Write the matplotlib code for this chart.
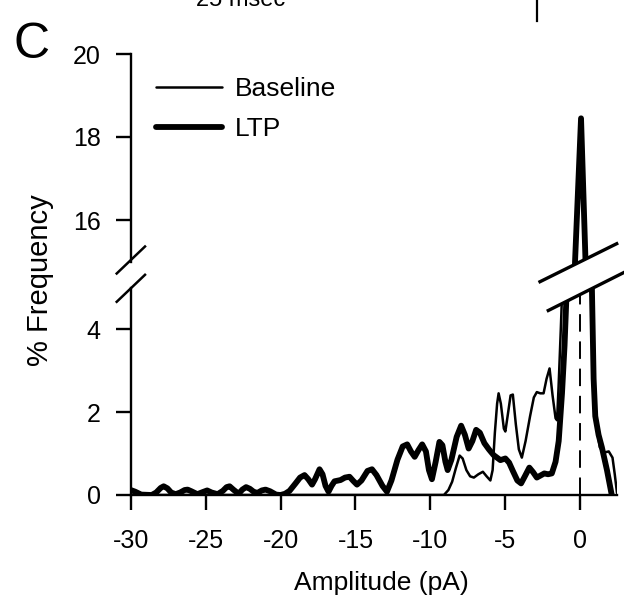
import matplotlib
matplotlib.use("Agg")
import matplotlib.pyplot as plt
from matplotlib.lines import Line2D
from matplotlib.patches import Polygon

plt.rcParams["font.family"] = ["Liberation Sans", "DejaVu Sans"]

# ---- amplitude histograms (% frequency vs amplitude, pA) ----
baseline_amp = [-30.0, -9.1, -8.8, -8.55, -8.3, -8.05, -7.85, -7.6, -7.35, -7.1,
                -6.8, -6.5, -6.25, -6.0, -5.85, -5.7, -5.55, -5.45, -5.3, -5.1,
                -5.0, -4.85, -4.65, -4.5, -4.3, -4.1, -3.9, -3.65, -3.35, -3.1,
                -2.9, -2.67, -2.45, -2.25, -2.05, -1.85, -1.65, -1.55, -1.45, -1.3,
                -1.2, -0.3, 0.0, 0.3, 0.82, 0.9, 1.0, 1.15, 1.3, 1.55,
                1.9, 2.15, 2.3, 2.45]
baseline_freq = [0.0, 0.0, 0.12, 0.32, 0.65, 0.95, 0.88, 0.6, 0.45, 0.42,
                 0.5, 0.56, 0.45, 0.35, 0.6, 1.5, 2.2, 2.45, 2.2, 1.6,
                 1.53, 1.9, 2.4, 2.42, 1.7, 1.1, 0.9, 1.3, 1.9, 2.35,
                 2.48, 2.45, 2.45, 2.8, 3.05, 2.4, 1.85, 1.8, 2.6, 4.0,
                 5.0, 15.0, 18.3, 15.0, 4.9, 3.0, 2.1, 1.5, 1.15, 1.02,
                 1.05, 0.9, 0.5, 0.05]

ltp_amp = [-30.0, -29.7, -29.3, -28.6, -28.3, -28.0, -27.8, -27.55, -27.3, -27.0,
           -26.7, -26.4, -26.2, -25.95, -25.55, -25.2, -24.9, -24.6, -24.2, -23.85,
           -23.6, -23.4, -23.15, -22.8, -22.55, -22.3, -22.05, -21.8, -21.55, -21.25,
           -21.0, -20.7, -20.3, -20.0, -19.7, -19.4, -19.0, -18.7, -18.4, -18.15,
           -17.9, -17.7, -17.4, -17.2, -17.0, -16.8, -16.6, -16.4, -16.0, -15.7,
           -15.4, -15.15, -14.9, -14.6, -14.2, -13.9, -13.6, -13.2, -12.9, -12.6,
           -12.2, -11.85, -11.55, -11.3, -11.05, -10.8, -10.55, -10.3, -10.1, -9.9,
           -9.65, -9.4, -9.2, -9.0, -8.85, -8.6, -8.25, -7.95, -7.7, -7.45,
           -7.2, -6.95, -6.7, -6.4, -6.1, -5.78, -5.33, -5.0, -4.75, -4.5,
           -4.2, -3.95, -3.7, -3.4, -3.15, -2.9, -2.65, -2.4, -2.15, -1.9,
           -1.65, -1.44, -1.22, -1.05, -0.9, -0.35, 0.05, 0.35, 0.78, 0.89,
           1.0, 1.22, 1.44, 1.78, 2.1]
ltp_freq = [0.12, 0.08, 0.01, 0.0, 0.06, 0.17, 0.21, 0.16, 0.06, 0.02,
            0.06, 0.12, 0.13, 0.09, 0.02, 0.07, 0.11, 0.06, 0.02, 0.1,
            0.19, 0.21, 0.13, 0.03, 0.13, 0.19, 0.15, 0.08, 0.05, 0.11,
            0.13, 0.09, 0.01, 0.0, 0.03, 0.1, 0.28, 0.42, 0.48, 0.38,
            0.25, 0.38, 0.62, 0.5, 0.22, 0.08, 0.22, 0.33, 0.36, 0.42,
            0.44, 0.34, 0.25, 0.35, 0.58, 0.62, 0.48, 0.22, 0.08, 0.35,
            0.85, 1.17, 1.22, 1.05, 0.92, 1.08, 1.22, 1.05, 0.6, 0.38,
            0.8, 1.28, 1.2, 0.8, 0.6, 0.85, 1.4, 1.67, 1.45, 1.12,
            1.3, 1.57, 1.5, 1.25, 1.1, 0.96, 0.84, 0.88, 0.78, 0.58,
            0.35, 0.28, 0.45, 0.66, 0.55, 0.42, 0.47, 0.52, 0.5, 0.52,
            0.8, 1.3, 2.45, 3.6, 5.0, 15.0, 18.45, 15.0, 4.9, 2.8,
            1.9, 1.45, 1.15, 0.6, 0.0]

x_ticks = [-30, -25, -20, -15, -10, -5, 0]
x_tick_labels = ["-30", "-25", "-20", "-15", "-10", "-5", "0"]
low_y_ticks = [0, 2, 4]
high_y_ticks = [16, 18, 20]

W, H = 624, 601
fig = plt.figure(figsize=(W / 100, H / 100), dpi=100)


def fpt(px, py):
    """pixel position (from top-left) -> figure fraction"""
    return px / W, 1 - py / H


PX_PER_UNIT = 41.5
left_px, right_px = 130.7, 617.0
zero_px, top_px = 495.0, 54.0
lo_top_val, hi_bot_val = 5.3, 14.7

lo_h = lo_top_val * PX_PER_UNIT
hi_h = (20 - hi_bot_val) * PX_PER_UNIT
ax_lo = fig.add_axes([left_px / W, 1 - zero_px / H, (right_px - left_px) / W, lo_h / H])
ax_hi = fig.add_axes([left_px / W, 1 - (top_px + hi_h) / H, (right_px - left_px) / W, hi_h / H])

for ax in (ax_lo, ax_hi):
    ax.set_facecolor("none")
    ax.plot(baseline_amp, baseline_freq, color="black", lw=1.8,
            solid_joinstyle="round", solid_capstyle="round", label="Baseline")
    ax.plot(ltp_amp, ltp_freq, color="black", lw=4.2,
            solid_joinstyle="round", solid_capstyle="round", label="LTP")
    ax.set_xlim(-30, 2.45)
    for side in ("top", "right"):
        ax.spines[side].set_visible(False)
    for side in ("left", "bottom"):
        ax.spines[side].set_linewidth(1.7)
    ax.tick_params(axis="both", direction="out", length=10.5, width=1.7,
                   labelsize=18, color="black")
    ax.tick_params(axis="y", pad=11)

ax_lo.axvline(0, color="black", lw=1.4, ls=(0, (9, 5)), zorder=1)

ax_lo.set_ylim(0, lo_top_val)
ax_lo.spines["left"].set_bounds(0, 5)
ax_lo.set_yticks(low_y_ticks)
ax_lo.set_xticks(x_ticks)
ax_lo.set_xticklabels(x_tick_labels)
ax_lo.tick_params(axis="x", pad=14)
ax_lo.spines["bottom"].set_bounds(-30, 2.45)

ax_hi.set_ylim(hi_bot_val, 20)
ax_hi.spines["left"].set_bounds(15, 20)
ax_hi.spines["bottom"].set_visible(False)
ax_hi.set_yticks(high_y_ticks)
ax_hi.tick_params(axis="x", bottom=False, labelbottom=False)

ax_lo.set_xlabel("Amplitude (pA)", fontsize=19, va="baseline")
ax_lo.xaxis.set_label_coords((381 - left_px) / (right_px - left_px), -(590 - zero_px) / lo_h)
fig.text(*fpt(40, 280), "% Frequency", rotation=90, ha="center", va="center", fontsize=21)

ax_hi.legend(loc="upper left", bbox_to_anchor=fpt(156, 77), bbox_transform=fig.transFigure,
             frameon=False, fontsize=19, handlelength=2.5, handletextpad=0.5,
             labelspacing=0.6, borderpad=0, borderaxespad=0)

# axis break marks on the y axis
for cy in (260.0, 288.3):
    fig.add_artist(Line2D([fpt(116.7, 0)[0], fpt(145, 0)[0]],
                          [fpt(0, cy + 13.5)[1], fpt(0, cy - 13.5)[1]],
                          color="black", lw=1.8, transform=fig.transFigure))

# break band across the peak
upper_edge = [(540.0, 281.7), (616.7, 243.7)]
lower_edge = [(548.3, 310.5), (623.3, 272.8)]
band = [fpt(*upper_edge[0]), fpt(*upper_edge[1]), fpt(*lower_edge[1]), fpt(*lower_edge[0])]
fig.add_artist(Polygon(band, closed=True, facecolor="white", edgecolor="none",
                       transform=fig.transFigure, zorder=5))
for edge in (upper_edge, lower_edge):
    (x0, y0), (x1, y1) = fpt(*edge[0]), fpt(*edge[1])
    fig.add_artist(Line2D([x0, x1], [y0, y1], color="black", lw=2.4,
                          transform=fig.transFigure, zorder=6))

# panel letter and the neighbouring panel's scale bar running off the top
fig.text(*fpt(14, 58), "C", fontsize=36, ha="left", va="baseline")
fig.text(*fpt(241, 6), "25 msec", fontsize=17, ha="center", va="baseline")
fig.add_artist(Line2D([537 / W, 537 / W], [1.0, 1 - 21 / H], color="black", lw=1.6,
                      transform=fig.transFigure))

fig.savefig("out.png", dpi=100)
